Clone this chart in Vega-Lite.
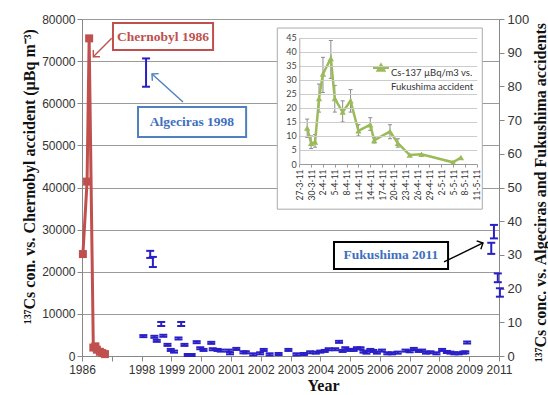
{
 "$schema": "https://vega.github.io/schema/vega-lite/v6.json",
 "width": 417, "height": 337,
 "autosize": "none",
 "padding": {"left": 82, "top": 19, "right": 49, "bottom": 39},
 "config": {"view": {"stroke": null}, "font": "Liberation Sans", "style": {"guide-label": {"lineHeight": 14}}},
 "datasets": {
  "red": [
   {"pos": 0.03, "v": 24200}, {"pos": 0.17, "v": 41400}, {"pos": 0.24, "v": 75400},
   {"pos": 0.38, "v": 2000}, {"pos": 0.45, "v": 2300}, {"pos": 0.5, "v": 1500},
   {"pos": 0.6, "v": 1000}, {"pos": 0.68, "v": 700}, {"pos": 0.77, "v": 450}
  ],
  "blue": [
   {"pos": 2.15, "lo": 79.9, "hi": 88.3}, {"pos": 2.29, "lo": 29.1, "hi": 31.2}, {"pos": 2.38, "lo": 26.4, "hi": 29.4},
   {"pos": 13.74, "lo": 30.3, "hi": 33.6}, {"pos": 13.83, "lo": 34.9, "hi": 38.9}, {"pos": 13.96, "lo": 21.9, "hi": 24.5}, {"pos": 14.03, "lo": 17.6, "hi": 20.1},
   {"pos": 2.06, "lo": 5.6, "hi": 6.2}, {"pos": 2.43, "lo": 5.4, "hi": 6.0}, {"pos": 2.51, "lo": 4.2, "hi": 4.8},
   {"pos": 2.66, "lo": 8.9, "hi": 10.1}, {"pos": 2.73, "lo": 5.7, "hi": 6.3}, {"pos": 2.87, "lo": 3.0, "hi": 3.6},
   {"pos": 2.98, "lo": 1.5, "hi": 2.1}, {"pos": 3.09, "lo": 1.0, "hi": 1.6}, {"pos": 3.24, "lo": 4.9, "hi": 5.5},
   {"pos": 3.33, "lo": 8.9, "hi": 10.1}, {"pos": 3.44, "lo": 3.0, "hi": 3.6}, {"pos": 3.55, "lo": 0.0, "hi": 0.6},
   {"pos": 3.68, "lo": 0.0, "hi": 0.6}, {"pos": 3.85, "lo": 3.8, "hi": 4.4}, {"pos": 3.97, "lo": 2.0, "hi": 2.6},
   {"pos": 4.08, "lo": 1.5, "hi": 2.1}, {"pos": 4.34, "lo": 3.6, "hi": 4.2}, {"pos": 4.39, "lo": 1.7, "hi": 2.3},
   {"pos": 4.55, "lo": 1.5, "hi": 2.1}, {"pos": 4.66, "lo": 1.3, "hi": 1.9}, {"pos": 4.92, "lo": 1.3, "hi": 1.9},
   {"pos": 4.97, "lo": 0.5, "hi": 1.1}, {"pos": 5.18, "lo": 1.8, "hi": 2.4}, {"pos": 5.42, "lo": 0.8, "hi": 1.4},
   {"pos": 5.5, "lo": 0.8, "hi": 1.4}, {"pos": 5.75, "lo": 0.2, "hi": 0.8}, {"pos": 5.98, "lo": 0.5, "hi": 1.1},
   {"pos": 6.1, "lo": 1.5, "hi": 2.1}, {"pos": 6.3, "lo": 0.2, "hi": 0.8}, {"pos": 6.6, "lo": 0.3, "hi": 0.9},
   {"pos": 6.93, "lo": 1.5, "hi": 2.1}, {"pos": 7.2, "lo": 0.2, "hi": 0.8}, {"pos": 7.45, "lo": 0.3, "hi": 0.9},
   {"pos": 7.66, "lo": 0.8, "hi": 1.4}, {"pos": 7.85, "lo": 0.7, "hi": 1.3}, {"pos": 8.0, "lo": 1.0, "hi": 1.6},
   {"pos": 8.15, "lo": 1.2, "hi": 1.8}, {"pos": 8.28, "lo": 1.7, "hi": 2.3}, {"pos": 8.5, "lo": 1.7, "hi": 2.3},
   {"pos": 8.63, "lo": 3.9, "hi": 4.5}, {"pos": 8.75, "lo": 1.2, "hi": 1.8}, {"pos": 8.84, "lo": 2.0, "hi": 2.6},
   {"pos": 9.0, "lo": 1.5, "hi": 2.1}, {"pos": 9.12, "lo": 1.5, "hi": 2.1}, {"pos": 9.23, "lo": 2.0, "hi": 2.6},
   {"pos": 9.35, "lo": 2.0, "hi": 2.6}, {"pos": 9.45, "lo": 1.0, "hi": 1.6}, {"pos": 9.55, "lo": 0.7, "hi": 1.3},
   {"pos": 9.68, "lo": 1.5, "hi": 2.1}, {"pos": 9.78, "lo": 1.2, "hi": 1.8}, {"pos": 9.9, "lo": 0.7, "hi": 1.3},
   {"pos": 10.07, "lo": 1.3, "hi": 1.9}, {"pos": 10.25, "lo": 0.5, "hi": 1.1}, {"pos": 10.41, "lo": 0.5, "hi": 1.1},
   {"pos": 10.6, "lo": 0.7, "hi": 1.3}, {"pos": 10.86, "lo": 1.3, "hi": 1.9}, {"pos": 11.0, "lo": 1.1, "hi": 1.7},
   {"pos": 11.14, "lo": 1.8, "hi": 2.4}, {"pos": 11.3, "lo": 1.2, "hi": 1.8}, {"pos": 11.42, "lo": 1.3, "hi": 1.9},
   {"pos": 11.55, "lo": 0.7, "hi": 1.3}, {"pos": 11.7, "lo": 0.8, "hi": 1.4}, {"pos": 11.9, "lo": 0.5, "hi": 1.1},
   {"pos": 12.09, "lo": 1.5, "hi": 2.1}, {"pos": 12.25, "lo": 0.9, "hi": 1.5}, {"pos": 12.37, "lo": 0.7, "hi": 1.3},
   {"pos": 12.5, "lo": 0.5, "hi": 1.1}, {"pos": 12.65, "lo": 0.5, "hi": 1.1}, {"pos": 12.8, "lo": 0.7, "hi": 1.3},
   {"pos": 12.87, "lo": 0.8, "hi": 1.4}, {"pos": 12.93, "lo": 3.7, "hi": 4.3}
  ],
  "boxes": [
   {"name": "Chernobyl 1986", "x0": 1.04, "x1": 4.4, "y0": 72640, "y1": 79050, "tx": 2.72, "ty": 75730},
   {"name": "Algeciras 1998", "x0": 1.88, "x1": 5.51, "y0": 51990, "y1": 59110, "tx": 3.69, "ty": 55550},
   {"name": "Fukushima 2011", "x0": 8.46, "x1": 12.29, "y0": 20650, "y1": 27060, "tx": 10.37, "ty": 23860}
  ],
  "arrows": [
   {"name": "Chernobyl 1986", "ax": 0.997, "ay": 75420, "bx": 0.379, "by": 71050},
   {"name": "Algeciras 1998", "ax": 3.391, "ay": 60300, "bx": 2.35, "by": 66950},
   {"name": "Fukushima 2011", "ax": 12.153, "ay": 22320, "bx": 13.463, "by": 26830}
  ],
  "frame": [
   {"d0": "2011-03-21T10:00:00Z", "d1": "2011-05-12T10:00:00Z", "y0": -16.1, "y1": 48.45}
  ],
  "green": [
   {"d": "2011-03-29", "v": 12.8, "lo": 9.5, "hi": 16, "s": "Cs-137 µBq/m3 vs. Fukushima accident"},
   {"d": "2011-03-30", "v": 7.4, "lo": 5.5, "hi": 10, "s": "Cs-137 µBq/m3 vs. Fukushima accident"},
   {"d": "2011-03-31", "v": 7.8, "lo": 6, "hi": 10.5, "s": "Cs-137 µBq/m3 vs. Fukushima accident"},
   {"d": "2011-04-01", "v": 23.3, "lo": 18.5, "hi": 28.5, "s": "Cs-137 µBq/m3 vs. Fukushima accident"},
   {"d": "2011-04-02", "v": 32.1, "lo": 25.5, "hi": 38, "s": "Cs-137 µBq/m3 vs. Fukushima accident"},
   {"d": "2011-04-04", "v": 37.6, "lo": 30.5, "hi": 44, "s": "Cs-137 µBq/m3 vs. Fukushima accident"},
   {"d": "2011-04-05", "v": 23.3, "lo": 18.5, "hi": 28, "s": "Cs-137 µBq/m3 vs. Fukushima accident"},
   {"d": "2011-04-07", "v": 18.5, "lo": 15, "hi": 22.5, "s": "Cs-137 µBq/m3 vs. Fukushima accident"},
   {"d": "2011-04-09", "v": 22.5, "lo": 18.5, "hi": 26.5, "s": "Cs-137 µBq/m3 vs. Fukushima accident"},
   {"d": "2011-04-11", "v": 11.8, "lo": 10, "hi": 14, "s": "Cs-137 µBq/m3 vs. Fukushima accident"},
   {"d": "2011-04-14", "v": 14, "lo": 12, "hi": 16.5, "s": "Cs-137 µBq/m3 vs. Fukushima accident"},
   {"d": "2011-04-15", "v": 8.4, "lo": 7.5, "hi": 9.5, "s": "Cs-137 µBq/m3 vs. Fukushima accident"},
   {"d": "2011-04-19", "v": 11.6, "lo": 9, "hi": 14, "s": "Cs-137 µBq/m3 vs. Fukushima accident"},
   {"d": "2011-04-21", "v": 7.4, "lo": 6, "hi": 9, "s": "Cs-137 µBq/m3 vs. Fukushima accident"},
   {"d": "2011-04-24", "v": 3.2, "lo": null, "hi": null, "s": "Cs-137 µBq/m3 vs. Fukushima accident"},
   {"d": "2011-04-27", "v": 3.5, "lo": null, "hi": null, "s": "Cs-137 µBq/m3 vs. Fukushima accident"},
   {"d": "2011-05-05", "v": 0.6, "lo": null, "hi": null, "s": "Cs-137 µBq/m3 vs. Fukushima accident"},
   {"d": "2011-05-07", "v": 2.3, "lo": null, "hi": null, "s": "Cs-137 µBq/m3 vs. Fukushima accident"}
  ]
 },
 "layer": [
  {
   "layer": [
    {
     "layer": [
      {
       "data": {"name": "red"},
       "mark": {"type": "line", "color": "#C0504D", "strokeWidth": 3},
       "encoding": {
        "x": {"field": "pos", "type": "quantitative",
         "scale": {"domain": [0, 14], "nice": false, "zero": false},
         "axis": {"orient": "bottom", "values": [0,1,2,3,4,5,6,7,8,9,10,11,12,13,14], "tickCount": 30,
          "labelExpr": "datum.value==0?'1986':datum.value==1?'':datum.value==14?'2011':''+(1996+datum.value)",
          "grid": false, "domainColor": "#888", "tickColor": "#888", "tickSize": 5,
          "labelFont": "Liberation Sans", "labelFontSize": 12, "labelColor": "#333", "labelPadding": 3,
          "labelFlush": false, "labelOverlap": false,
          "title": "Year", "titleFont": "Liberation Serif", "titleFontSize": 16, "titleFontWeight": "bold",
          "titleColor": "#111", "titlePadding": 2, "titleX": 241}},
        "y": {"field": "v", "type": "quantitative",
         "scale": {"domain": [0, 80000], "nice": false},
         "axis": {"orient": "left", "values": [0,10000,20000,30000,40000,50000,60000,70000,80000], "tickCount": 30, "format": "d",
          "grid": true, "gridColor": "#9a9a9a", "gridWidth": 1.2, "domainColor": "#888", "tickColor": "#888", "tickSize": 5,
          "labelFont": "Liberation Sans", "labelFontSize": 12, "labelColor": "#333", "labelPadding": 2, "labelOverlap": false,
          "title": "¹³⁷Cs con. vs. Chernobyl accident (µBq m⁻³)", "titleFont": "Liberation Serif", "titleFontSize": 16,
          "titleFontWeight": "bold", "titleColor": "#111", "titlePadding": 4, "titleY": 157}}
       }
      },
      {
       "data": {"name": "red"},
       "mark": {"type": "square", "color": "#C0504D", "size": 64, "opacity": 1},
       "encoding": {"x": {"field": "pos", "type": "quantitative"}, "y": {"field": "v", "type": "quantitative"}}
      },
      {
       "data": {"name": "boxes"},
       "mark": {"type": "rect", "fill": "white", "strokeWidth": 2},
       "encoding": {
        "x": {"field": "x0", "type": "quantitative"}, "x2": {"field": "x1"},
        "y": {"field": "y0", "type": "quantitative"}, "y2": {"field": "y1"},
        "stroke": {"field": "name", "type": "nominal", "legend": null,
         "scale": {"domain": ["Chernobyl 1986", "Algeciras 1998", "Fukushima 2011"], "range": ["#C0504D", "#4F81BD", "#000000"]}}
       }
      },
      {
       "data": {"name": "boxes"},
       "mark": {"type": "text", "font": "Liberation Serif", "fontWeight": "bold", "fontSize": 13.5, "align": "center", "baseline": "middle"},
       "encoding": {
        "x": {"field": "tx", "type": "quantitative"}, "y": {"field": "ty", "type": "quantitative"},
        "text": {"field": "name"},
        "fill": {"field": "name", "type": "nominal", "legend": null,
         "scale": {"domain": ["Chernobyl 1986", "Algeciras 1998", "Fukushima 2011"], "range": ["#C0504D", "#3E6FC0", "#3E6FC0"]}}
       }
      },
      {
       "data": {"name": "arrows"},
       "mark": {"type": "rule", "strokeWidth": 1.4},
       "encoding": {
        "x": {"field": "ax", "type": "quantitative"}, "y": {"field": "ay", "type": "quantitative"},
        "x2": {"field": "bx"}, "y2": {"field": "by"},
        "stroke": {"field": "name", "type": "nominal", "legend": null}
       }
      },
      {
       "data": {"name": "arrows"},
       "transform": [{"filter": "datum.name === 'Chernobyl 1986'"}],
       "mark": {"type": "point", "shape": "M-1,1L0,0L1,1", "angle": 225, "filled": false, "size": 90, "strokeWidth": 1.4, "color": "#C0504D", "opacity": 1},
       "encoding": {"x": {"field": "bx", "type": "quantitative"}, "y": {"field": "by", "type": "quantitative"}}
      },
      {
       "data": {"name": "arrows"},
       "transform": [{"filter": "datum.name === 'Algeciras 1998'"}],
       "mark": {"type": "point", "shape": "M-1,1L0,0L1,1", "angle": 312, "filled": false, "size": 90, "strokeWidth": 1.4, "color": "#4F81BD", "opacity": 1},
       "encoding": {"x": {"field": "bx", "type": "quantitative"}, "y": {"field": "by", "type": "quantitative"}}
      },
      {
       "data": {"name": "arrows"},
       "transform": [{"filter": "datum.name === 'Fukushima 2011'"}],
       "mark": {"type": "point", "shape": "M-1,1L0,0L1,1", "angle": 64, "filled": false, "size": 90, "strokeWidth": 1.4, "color": "#000000", "opacity": 1},
       "encoding": {"x": {"field": "bx", "type": "quantitative"}, "y": {"field": "by", "type": "quantitative"}}
      }
     ]
    },
    {
     "layer": [
      {
       "data": {"name": "blue"},
       "mark": {"type": "rule", "color": "#2A1FC7", "strokeWidth": 2},
       "encoding": {
        "x": {"field": "pos", "type": "quantitative"},
        "y": {"field": "lo", "type": "quantitative", "scale": {"domain": [0, 100], "nice": false},
         "axis": {"orient": "right", "values": [0,10,20,30,40,50,60,70,80,90,100], "tickCount": 30, "grid": false,
          "domainColor": "#888", "tickColor": "#888", "tickSize": 5, "labelOverlap": false,
          "labelFont": "Liberation Sans", "labelFontSize": 13, "labelColor": "#333", "labelPadding": 3,
          "title": "¹³⁷Cs conc. vs. Algeciras and Fukushima accidents", "titleFont": "Liberation Serif", "titleFontSize": 16,
          "titleFontWeight": "bold", "titleColor": "#111", "titleAngle": 270, "titleBaseline": "top", "titlePadding": 4, "titleY": 173}},
        "y2": {"field": "hi"}
       }
      },
      {
       "data": {"name": "blue"},
       "mark": {"type": "tick", "color": "#2A1FC7", "orient": "horizontal", "size": 8, "thickness": 2, "opacity": 1},
       "encoding": {"x": {"field": "pos", "type": "quantitative"}, "y": {"field": "lo", "type": "quantitative"}}
      },
      {
       "data": {"name": "blue"},
       "mark": {"type": "tick", "color": "#2A1FC7", "orient": "horizontal", "size": 8, "thickness": 2, "opacity": 1},
       "encoding": {"x": {"field": "pos", "type": "quantitative"}, "y": {"field": "hi", "type": "quantitative"}}
      }
     ]
    }
   ],
   "resolve": {"scale": {"y": "independent"}}
  },
  {
   "layer": [
    {
     "data": {"name": "frame"},
     "mark": {"type": "rect", "fill": "white", "stroke": "#aaaaaa", "strokeWidth": 1},
     "encoding": {
      "x": {"field": "d0", "type": "temporal",
       "scale": {"type": "utc", "domain": [{"year": 2011, "month": 3, "date": 27, "utc": true}, {"year": 2011, "month": 5, "date": 11, "utc": true}], "range": [217.3, 394.7]},
       "axis": {"orient": "bottom", "offset": -192, "tickCount": 40,
        "values": [
         {"year": 2011, "month": 3, "date": 27, "utc": true}, {"year": 2011, "month": 3, "date": 30, "utc": true},
         {"year": 2011, "month": 4, "date": 2, "utc": true}, {"year": 2011, "month": 4, "date": 5, "utc": true},
         {"year": 2011, "month": 4, "date": 8, "utc": true}, {"year": 2011, "month": 4, "date": 11, "utc": true},
         {"year": 2011, "month": 4, "date": 14, "utc": true}, {"year": 2011, "month": 4, "date": 17, "utc": true},
         {"year": 2011, "month": 4, "date": 20, "utc": true}, {"year": 2011, "month": 4, "date": 23, "utc": true},
         {"year": 2011, "month": 4, "date": 26, "utc": true}, {"year": 2011, "month": 4, "date": 29, "utc": true},
         {"year": 2011, "month": 5, "date": 2, "utc": true}, {"year": 2011, "month": 5, "date": 5, "utc": true},
         {"year": 2011, "month": 5, "date": 8, "utc": true}, {"year": 2011, "month": 5, "date": 11, "utc": true}
        ],
        "format": "%-d-%-m-%y", "labelAngle": -90, "labelFont": "Lato", "labelFontSize": 8.5, "labelColor": "#333",
        "labelPadding": 2, "tickSize": 3, "tickColor": "#999", "domainColor": "#999", "grid": false, "title": null,
        "zindex": 1, "labelFlush": false, "labelOverlap": false}},
      "x2": {"field": "d1"},
      "y": {"field": "y0", "type": "quantitative",
       "scale": {"domain": [0, 45], "range": [145, 18.7], "nice": false, "zero": false},
       "axis": {"orient": "left", "offset": -217.3, "values": [0,5,10,15,20,25,30,35,40,45], "tickCount": 30, "grid": true,
        "gridColor": "#cccccc", "domainColor": "#aaaaaa", "tickSize": 0, "labelFont": "Lato", "labelFontSize": 9,
        "labelColor": "#444", "labelPadding": 3, "labelOverlap": false, "title": null, "zindex": 1}},
      "y2": {"field": "y1"}
     }
    },
    {
     "data": {"name": "green"},
     "mark": {"type": "rule", "color": "#8c8c8c", "strokeWidth": 1},
     "encoding": {"x": {"field": "d", "type": "temporal"}, "y": {"field": "lo", "type": "quantitative"}, "y2": {"field": "hi"}}
    },
    {
     "data": {"name": "green"},
     "mark": {"type": "tick", "color": "#8c8c8c", "orient": "horizontal", "size": 4, "thickness": 1, "opacity": 1},
     "encoding": {"x": {"field": "d", "type": "temporal"}, "y": {"field": "lo", "type": "quantitative"}}
    },
    {
     "data": {"name": "green"},
     "mark": {"type": "tick", "color": "#8c8c8c", "orient": "horizontal", "size": 4, "thickness": 1, "opacity": 1},
     "encoding": {"x": {"field": "d", "type": "temporal"}, "y": {"field": "hi", "type": "quantitative"}}
    },
    {
     "data": {"name": "green"},
     "mark": {"type": "line", "strokeWidth": 2.5},
     "encoding": {
      "x": {"field": "d", "type": "temporal"}, "y": {"field": "v", "type": "quantitative"},
      "color": {"field": "s", "type": "nominal",
       "scale": {"domain": ["Cs-137 µBq/m3 vs. Fukushima accident"], "range": ["#9BBB59"]},
       "legend": {"orient": "none", "legendX": 294, "legendY": 44, "title": null,
        "symbolType": "M-2,0H2M0,-0.9L0.9,0.7L-0.9,0.7Z", "symbolSize": 64,
        "symbolFillColor": "#9BBB59", "symbolStrokeColor": "#9BBB59", "symbolStrokeWidth": 2,
        "labelExpr": "[slice(datum.label,0,17), slice(datum.label,18)]",
        "labelFont": "Lato", "labelFontSize": 9.5, "labelColor": "#333", "labelOffset": 5,
        "labelBaseline": "top", "labelLimit": 0}}
     }
    },
    {
     "data": {"name": "green"},
     "mark": {"type": "point", "shape": "triangle-up", "filled": true, "size": 40, "color": "#9BBB59", "opacity": 1},
     "encoding": {"x": {"field": "d", "type": "temporal"}, "y": {"field": "v", "type": "quantitative"}}
    }
   ]
  }
 ],
 "resolve": {"scale": {"x": "independent", "y": "independent"}}
}
